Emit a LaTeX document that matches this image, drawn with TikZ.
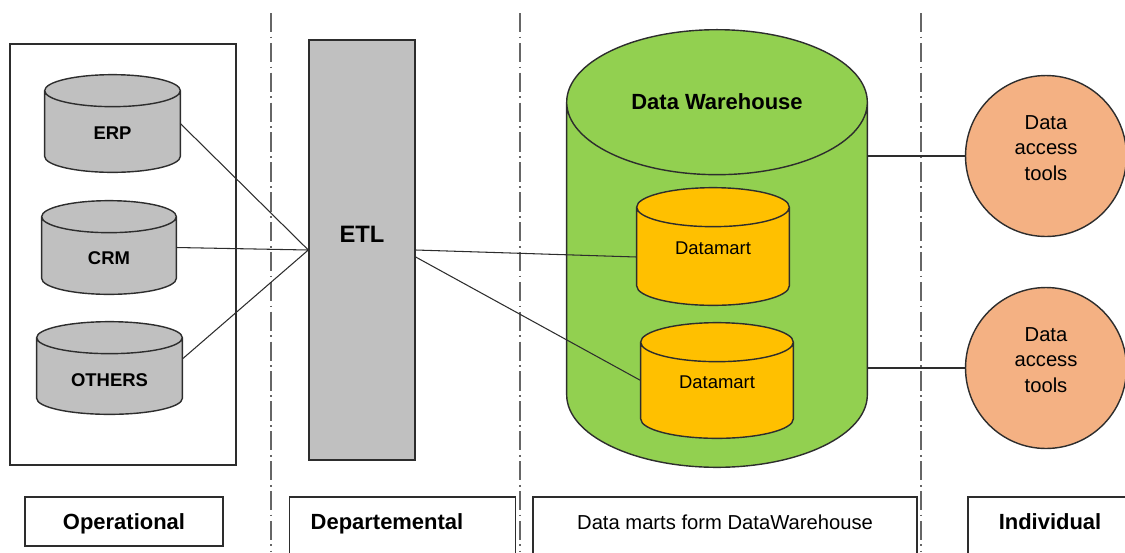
\documentclass[tikz,border=0pt]{standalone}
\usepackage{fontspec}
\setmainfont{Liberation Sans}
\definecolor{storeGray}{RGB}{192,192,192}
\definecolor{warehouseGreen}{RGB}{146,208,80}
\definecolor{martGold}{RGB}{255,192,0}
\definecolor{toolPeach}{RGB}{244,177,131}
\definecolor{lineGray}{RGB}{45,45,45}
\usetikzlibrary{calc, backgrounds}

% drum outline behind a named node: node, fill, end radius
\newcommand{\drum}[3]{%
  \filldraw[fill=#2, draw=lineGray, line width=0.8pt]
    let \p1 = ($(#1.east)-(#1.west)$) in
    ([yshift=-#3]#1.north west) -- ([yshift=#3]#1.south west)
    arc[start angle=180, end angle=360, x radius=0.5*\x1, y radius=#3]
    -- ([yshift=-#3]#1.north east)
    arc[start angle=0, end angle=180, x radius=0.5*\x1, y radius=#3] -- cycle
    ([yshift=-#3]#1.north west)
    arc[start angle=180, end angle=360, x radius=0.5*\x1, y radius=#3];
}

\begin{document}
\begin{tikzpicture}[x=0.02cm, y=-0.02cm,
    store/.style={rectangle, inner sep=0pt},
    storetext/.style={font=\fontsize{10.5}{12}\selectfont\bfseries},
    marttext/.style={font=\fontsize{10.5}{12}\selectfont},
    tool/.style={
      circle, draw=lineGray, fill=toolPeach, line width=0.8pt,
      minimum size=3.22cm, inner sep=0pt
    },
    tooltext/.style={font=\fontsize{11.5}{14.5}\selectfont, align=center},
    tierbox/.style={
      rectangle, draw=lineGray, fill=white, line width=0.8pt,
      anchor=base, inner ysep=0pt, text height=0.64cm, text depth=1cm,
      font=\fontsize{12.5}{14}\selectfont\bfseries
    },
    link/.style={draw=lineGray, line width=0.6pt},
    divider/.style={draw=black!60, line width=0.8pt,
      dash pattern=on 11pt off 2.5pt on 1pt off 2.5pt},
  ]
    \path[use as bounding box, clip] (0,0) rectangle (1125,552);

    % Tier dividers
    \foreach \xd in {271, 520, 921} {
      \draw[divider] (\xd,13) -- (\xd,552);
    }

    % Operational
    \draw[lineGray, line width=0.8pt] (10,44) rectangle (236,465);
    \node[store, minimum width=2.70cm, minimum height=1.94cm,
      label={[storetext, yshift=-0.19cm]center:ERP}] (erp) at (112.5,123.5) {};
    \node[store, minimum width=2.68cm, minimum height=1.86cm,
      label={[storetext, yshift=-0.21cm]center:CRM}] (crm) at (109,247.5) {};
    \node[store, minimum width=2.90cm, minimum height=1.84cm,
      label={[storetext, yshift=-0.24cm]center:OTHERS}] (others) at (109.5,368) {};

    % Departemental
    \node[rectangle, draw=lineGray, fill=storeGray, line width=0.8pt,
      minimum width=2.12cm, minimum height=8.4cm,
      label={[font=\fontsize{13.5}{15}\selectfont\bfseries, yshift=0.32cm]center:ETL}]
      (etl) at (362,250) {};

    % Data marts form DataWarehouse
    \node[store, minimum width=6.0cm, minimum height=8.74cm,
      label={[font=\fontsize{12.5}{14}\selectfont\bfseries, yshift=2.93cm]center:Data Warehouse}]
      (dw) at (717,248.5) {};
    \node[store, minimum width=3.04cm, minimum height=2.34cm,
      label={[marttext, yshift=-0.03cm]center:Datamart}] (dm1) at (713,246.5) {};
    \node[store, minimum width=3.04cm, minimum height=2.30cm,
      label={[marttext, yshift=-0.03cm]center:Datamart}] (dm2) at (717,380.5) {};

    \begin{scope}[on background layer]
      \drum{erp}{storeGray}{0.32cm}
      \drum{crm}{storeGray}{0.32cm}
      \drum{others}{storeGray}{0.32cm}
      \drum{dw}{warehouseGreen}{1.45cm}
      \drum{dm1}{martGold}{0.39cm}
      \drum{dm2}{martGold}{0.39cm}
    \end{scope}

    % Individual
    \node[tool, label={[tooltext, yshift=0.16cm]center:Data\\access\\tools}]
      (tool1) at (1046,156) {};
    \node[tool, label={[tooltext, yshift=0.16cm]center:Data\\access\\tools}]
      (tool2) at (1046,368) {};

    \foreach \src in {erp, crm} {
      \draw[link] (\src.east) -- (etl.west);
    }
    \draw[link] ([yshift=0.18cm]others.east) -- (etl.west);
    \draw[link] (etl.east) -- ([yshift=-0.21cm]dm1.west);
    \draw[link] ([yshift=-0.14cm]etl.east) -- (dm2.west);
    \draw[link] (dw.east |- tool1) -- (tool1);
    \draw[link] (dw.east |- tool2) -- (tool2);

    % Tier names
    \node[tierbox, minimum width=3.96cm, text depth=0.34cm] (opname) at (124,529) {Operational};
    \node[tierbox, anchor=base west, inner xsep=0.42cm, text width=3.68cm, align=left]
      (depname) at (289,529) {Departemental};
    \node[tierbox, minimum width=7.68cm, font=\fontsize{11.5}{14}\selectfont]
      (dwname) at (725,529) {Data marts form DataWarehouse};
    \node[tierbox, minimum width=3.28cm] (indname) at (1050,529) {Individual};
  \end{tikzpicture}
\end{document}
